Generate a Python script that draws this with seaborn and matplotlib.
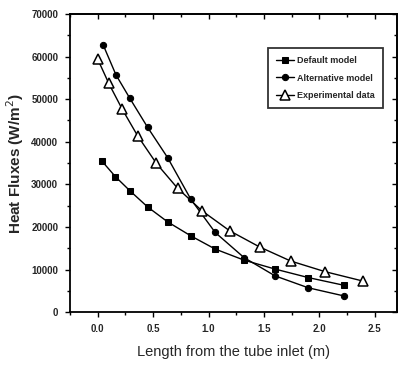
import matplotlib
matplotlib.use("Agg")
import matplotlib.pyplot as plt
import seaborn as sns
import pandas as pd
from matplotlib.ticker import MultipleLocator, FormatStrFormatter, NullFormatter

sns.set_theme(style="ticks")
plt.rcParams['font.family'] = ['Liberation Sans', 'DejaVu Sans']

default_x = [0.04, 0.16, 0.29, 0.45, 0.63, 0.84, 1.06, 1.32, 1.60, 1.90, 2.22]
default_y = [35400, 31800, 28500, 24700, 21200, 17900, 14800, 12200, 10100, 8100, 6300]
alt_x = [0.05, 0.165, 0.29, 0.45, 0.63, 0.84, 1.06, 1.32, 1.60, 1.90, 2.22]
alt_y = [62700, 55700, 50200, 43400, 36300, 26500, 18700, 12800, 8500, 5700, 3800]
exp_x = [0.0, 0.10, 0.22, 0.36, 0.53, 0.72, 0.94, 1.19, 1.46, 1.74, 2.05, 2.39]
exp_y = [59400, 53700, 47700, 41400, 34900, 29100, 23800, 19100, 15300, 12000, 9500, 7300]

fig = plt.figure(figsize=(4.0, 3.65), dpi=100)
ax = fig.add_axes([0.175, 0.145, 0.8175, 0.8165])

sns.lineplot(x=default_x, y=default_y, ax=ax, color='black', lw=1.0, marker='s',
             markersize=4.5, markerfacecolor='black', markeredgecolor='black', label='Default model')
sns.lineplot(x=alt_x, y=alt_y, ax=ax, color='black', lw=1.0, marker='o',
             markersize=4.5, markerfacecolor='black', markeredgecolor='black', label='Alternative model')
sns.lineplot(x=exp_x, y=exp_y, ax=ax, color='black', lw=1.0, marker='^',
             markersize=7, markerfacecolor='white', markeredgecolor='black', markeredgewidth=1.1,
             label='Experimental data')

ax.set_xlim(-0.25, 2.7)
ax.set_ylim(0, 70000)
ax.xaxis.set_major_locator(MultipleLocator(0.5))
ax.xaxis.set_minor_locator(MultipleLocator(0.25))
ax.yaxis.set_major_locator(MultipleLocator(10000))
ax.yaxis.set_minor_locator(MultipleLocator(5000))
ax.xaxis.set_major_formatter(FormatStrFormatter('%.1f'))

for s in ax.spines.values():
    s.set_linewidth(1.3)
    s.set_color('black')
ax.tick_params(which='both', direction='out', color='black', width=1.0)
ax.tick_params(which='major', length=3.5, labelsize=7, pad=5)
ax.tick_params(which='minor', length=2)
for lab in ax.get_xticklabels() + ax.get_yticklabels():
    lab.set_fontweight('bold')

# mirrored inward ticks on top and right
top = ax.secondary_xaxis('top')
top.xaxis.set_major_locator(MultipleLocator(0.5))
top.xaxis.set_minor_locator(MultipleLocator(0.25))
top.xaxis.set_major_formatter(NullFormatter())
top.tick_params(which='both', direction='in', color='black', width=1.0)
top.tick_params(which='major', length=3.5)
top.tick_params(which='minor', length=2)
top.spines['top'].set_linewidth(1.3)
right = ax.secondary_yaxis('right')
right.yaxis.set_major_locator(MultipleLocator(10000))
right.yaxis.set_minor_locator(MultipleLocator(5000))
right.yaxis.set_major_formatter(NullFormatter())
right.tick_params(which='both', direction='in', color='black', width=1.0)
right.tick_params(which='major', length=3.5)
right.tick_params(which='minor', length=2)
right.spines['right'].set_linewidth(1.3)

ax.set_xlabel('Length from the tube inlet (m)', fontsize=10.5, labelpad=8)
ax.set_ylabel('Heat Fluxes (W/m$^2$)', fontsize=11, fontweight='bold', labelpad=4)

leg = ax.legend(loc='upper right', bbox_to_anchor=(0.97, 0.9),
                frameon=True, fancybox=False, edgecolor='black', handlelength=2.0,
                handletextpad=0.3, borderpad=0.9, labelspacing=0.9,
                prop={'weight': 'bold', 'size': 6.5})
leg.get_frame().set_linewidth(1.3)

fig.savefig('out.png', dpi=100, facecolor='white')
